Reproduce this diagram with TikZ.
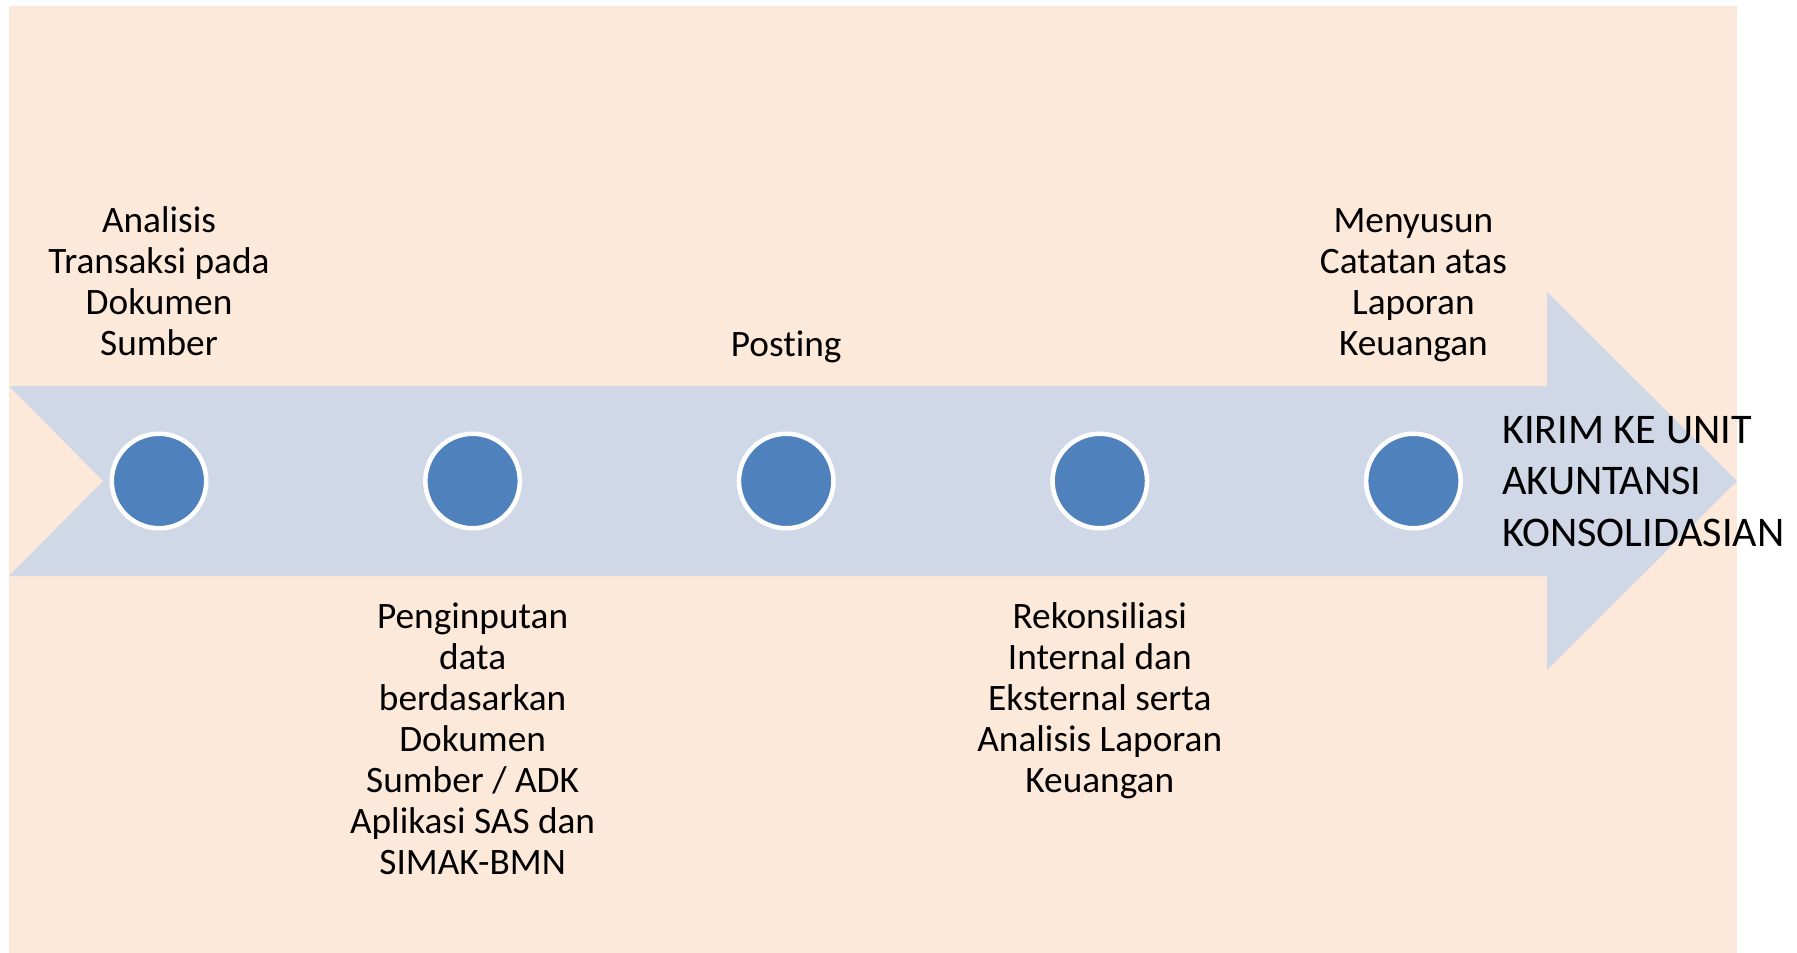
\documentclass[tikz,border=0pt]{standalone}
\usepackage{fontspec}
\setmainfont{Carlito}[Ligatures=NoCommon]
\definecolor{bgpeach}{HTML}{FDE9D9}
\definecolor{arrowblue}{HTML}{D0D8E8}
\definecolor{dotblue}{HTML}{4F81BD}
\begin{document}
\begin{tikzpicture}[x=1pt,y=-1pt,
  dot/.style={circle,fill=dotblue,draw=white,line width=4.5pt,minimum size=94.5pt,inner sep=0pt},
  steplabel/.style={align=center,inner sep=0pt,anchor=base,font=\fontsize{37.3}{41}\selectfont},
  endlabel/.style={align=left,inner sep=0pt,anchor=base west,font=\fontsize{42.2}{51.5}\selectfont}]
\useasboundingbox (0,0) rectangle (1797,953);
% background panel
\fill[bgpeach] (9,6) rectangle (1737,953);
% notched arrow
\fill[arrowblue] (9,386) -- (1547,386) -- (1547,292) -- (1737,481) -- (1547,670) -- (1547,576) -- (9,576) -- (103,481) -- cycle;
% milestones
\node[dot] (s1) at (159,481) {};
\node[dot] (s2) at (472.6,481) {};
\node[dot] (s3) at (786.2,481) {};
\node[dot] (s4) at (1099.8,481) {};
\node[dot] (s5) at (1413.4,481) {};
% step texts (anchored at the baseline of the last line)
\node[steplabel] (t1) at (159,355) {Analisis\\Transaksi pada\\Dokumen\\Sumber};
\node[steplabel] (t2) at (472.6,874) {Penginputan\\data\\berdasarkan\\Dokumen\\Sumber / ADK\\Aplikasi SAS dan\\SIMAK-BMN};
\node[steplabel] (t3) at (786.2,356) {Posting};
\node[steplabel] (t4) at (1099.8,792) {Rekonsiliasi\\Internal dan\\Eksternal serta\\Analisis Laporan\\Keuangan};
\node[steplabel] (t5) at (1413.4,355) {Menyusun\\Catatan atas\\Laporan\\Keuangan};
\node[endlabel] (t6) at (1502,546) {KIRIM KE UNIT\\AKUNTANSI\\KONSOLIDASIAN};
\end{tikzpicture}
\end{document}
